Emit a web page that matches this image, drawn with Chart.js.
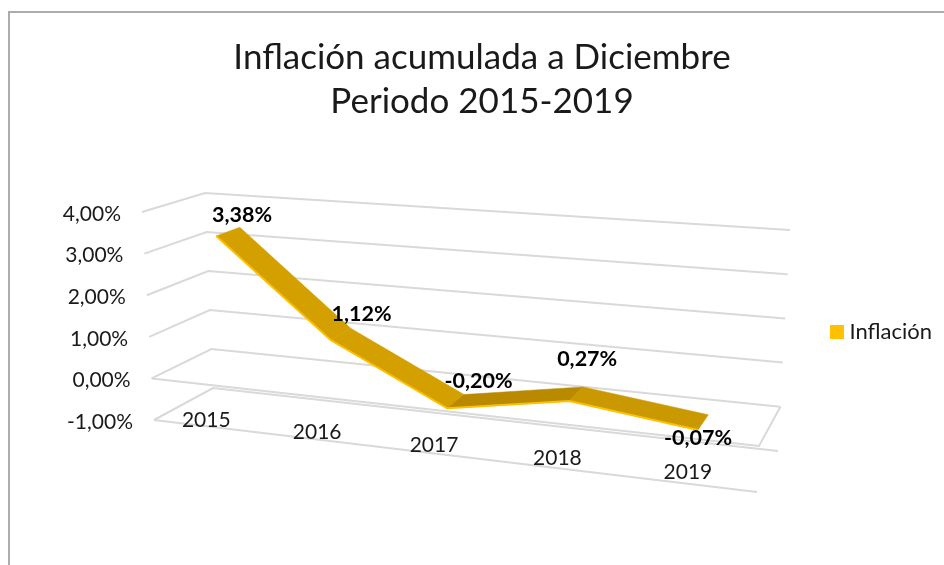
<!DOCTYPE html>
<html lang="es">
<head>
<meta charset="utf-8">
<title>Inflación acumulada</title>
<script src="https://cdn.jsdelivr.net/npm/chart.js@4"></script>
<style>
  html, body { margin: 0; padding: 0; background: #fff; overflow: hidden; }
  #frame { position: absolute; left: 8px; top: 11px; width: 960px; height: 600px; border-left: 2px solid #AFABAB; border-top: 2px solid #AFABAB; }
  #chart { position: absolute; left: 0; top: 0; }
</style>
</head>
<body>
<div id="frame"></div>
<canvas id="chart" width="944" height="565"></canvas>
<script>
const years = ["2015", "2016", "2017", "2018", "2019"]
const inflation = [3.38, 1.12, -0.20, 0.27, -0.07]
const valueTicks = [-1, 0, 1, 2, 3, 4]

// segment colours of the ribbon, one per stretch between two years
const ribbonColors = ["#D3A000", "#D3A000", "#B98A00", "#CA9800"]

// where the 3D box lands on the page: [left/right][front/back][bottom/top]
const box = {
  frontLeft: { bottom: [154, 420], top: [142, 212] },
  frontRight: { bottom: [757, 492], top: [767, 262] },
  backLeft: { bottom: [213, 388], top: [205, 193] },
  backRight: { bottom: [778, 451], top: [790, 230] },
}
const perspective = 1.146
const ribbonFront = 0.3
const ribbonBack = 0.7

// nudges for the value labels, relative to the middle of the ribbon
const labelNudge = [[14, -18], [21, -21], [23, -21], [11, -36], [-5, 15]]

const formatPct = (v) => v.toFixed(2).replace(".", ",") + "%"
const mix = (a, b, t) => a + (b - a) * t

function corner(c, v, axis) {
  return mix(c.bottom[axis], c.top[axis], v)
}

// take a pixel from the flat scales and put it in the tilted box
function project(chart, px, py, depth) {
  const area = chart.chartArea
  const flatU = (px - area.left) / area.width
  const u = flatU / (perspective - (perspective - 1) * flatU)
  const v = (area.bottom - py) / area.height
  const onAxis = (axis) => {
    const front = mix(corner(box.frontLeft, v, axis), corner(box.frontRight, v, axis), u)
    const back = mix(corner(box.backLeft, v, axis), corner(box.backRight, v, axis), u)
    return mix(front, back, depth)
  }
  return { x: onAxis(0), y: onAxis(1), u: u }
}

function boxPoint(chart, u, value, depth) {
  const area = chart.chartArea
  return project(chart, area.left + u * area.width, chart.scales.y.getPixelForValue(value), depth)
}

function ribbonPoint(chart, i, depth) {
  const x = chart.scales.x.getPixelForValue(i)
  const y = chart.scales.y.getPixelForValue(inflation[i])
  return project(chart, x, y, depth)
}

function strokePath(ctx, points) {
  ctx.beginPath()
  points.forEach((p, i) => (i === 0 ? ctx.moveTo(p.x, p.y) : ctx.lineTo(p.x, p.y)))
  ctx.stroke()
}

const box3d = {
  id: "box3d",
  afterDatasetsUpdate(chart) {
    // the front edge of the ribbon is the real dataset line, moved into the box
    chart.getDatasetMeta(0).data.forEach((point, i) => {
      const p = ribbonPoint(chart, i, ribbonFront)
      point.x = p.x
      point.y = p.y
    })
  },
  beforeDatasetsDraw(chart) {
    const ctx = chart.ctx
    const ticks = chart.scales.y.ticks.map((t) => t.value)
    ctx.save()
    ctx.strokeStyle = "#D9D9D9"
    ctx.lineWidth = 2
    ctx.lineJoin = "miter"

    // gridlines: left wall then back wall
    ticks.forEach((value) => {
      strokePath(ctx, [boxPoint(chart, 0, value, 0), boxPoint(chart, 0, value, 1), boxPoint(chart, 1, value, 1)])
    })
    // floor at zero and front edge at the bottom
    strokePath(ctx, [boxPoint(chart, 0, 0, 0), boxPoint(chart, 1, 0, 0), boxPoint(chart, 1, 0, 1)])
    strokePath(ctx, [boxPoint(chart, 0, -1, 0), boxPoint(chart, 1, -1, 0)])

    // ribbon
    ctx.lineWidth = 0.5
    ribbonColors.forEach((color, i) => {
      const a = ribbonPoint(chart, i, ribbonFront)
      const b = ribbonPoint(chart, i + 1, ribbonFront)
      const c = ribbonPoint(chart, i + 1, ribbonBack)
      const d = ribbonPoint(chart, i, ribbonBack)
      ctx.fillStyle = color
      ctx.strokeStyle = color
      ctx.beginPath()
      ctx.moveTo(a.x, a.y)
      ctx.lineTo(b.x, b.y)
      ctx.lineTo(c.x, c.y)
      ctx.lineTo(d.x, d.y)
      ctx.closePath()
      ctx.fill()
      ctx.stroke()
    })
    ctx.restore()
  },
  afterDatasetsDraw(chart) {
    const ctx = chart.ctx
    ctx.save()
    ctx.textBaseline = "middle"

    // value axis labels
    ctx.font = "21px Lato"
    ctx.fillStyle = "#1A1A1A"
    ctx.textAlign = "right"
    chart.scales.y.ticks.forEach((t) => {
      const p = boxPoint(chart, 0, t.value, 0)
      ctx.fillText(formatPct(t.value), p.x - 21, p.y + 2)
    })

    // year labels, lying on the floor
    ctx.textAlign = "center"
    chart.scales.x.getLabels().forEach((label, i) => {
      const x = chart.scales.x.getPixelForValue(i)
      const p = project(chart, x, chart.scales.y.getPixelForValue(-1), 0)
      ctx.fillText(label, p.x - 1, p.y - 6 - 6 * p.u)
    })

    // data labels
    ctx.font = "bold 21.5px Lato"
    ctx.fillStyle = "#000"
    inflation.forEach((value, i) => {
      const p = ribbonPoint(chart, i, (ribbonFront + ribbonBack) / 2)
      ctx.fillText(formatPct(value), p.x + labelNudge[i][0], p.y + labelNudge[i][1] + 1)
    })
    ctx.restore()
  },
}

Chart.defaults.font.family = "Lato"

new Chart(document.getElementById("chart"), {
  type: "line",
  data: {
    labels: years,
    datasets: [
      {
        label: "Inflación",
        data: inflation,
        borderColor: "#FFC000",
        backgroundColor: "#FFC000",
        borderWidth: 2,
        pointRadius: 0,
        tension: 0,
        fill: false,
        clip: false,
      },
    ],
  },
  options: {
    responsive: false,
    animation: false,
    layout: { padding: { left: 22, right: 2, top: 36, bottom: 45 } },
    plugins: {
      title: {
        display: true,
        text: ["Inflación acumulada a Diciembre", "Periodo 2015-2019"],
        color: "#1A1A1A",
        font: { size: 35, weight: "normal", lineHeight: 1.257 },
        padding: { top: 0, bottom: 20 },
      },
      legend: {
        position: "right",
        fullSize: false,
        labels: {
          usePointStyle: true,
          pointStyle: "rect",
          boxWidth: 3,
          boxHeight: 12,
          padding: 10,
          color: "#1A1A1A",
          font: { size: 22 },
        },
      },
      tooltip: { enabled: false },
    },
    scales: {
      x: { display: false, offset: true },
      y: { display: false, min: -1, max: 4, afterBuildTicks: (axis) => { axis.ticks = valueTicks.map((v) => ({ value: v })) } },
    },
  },
  plugins: [box3d],
})
</script>
</body>
</html>
